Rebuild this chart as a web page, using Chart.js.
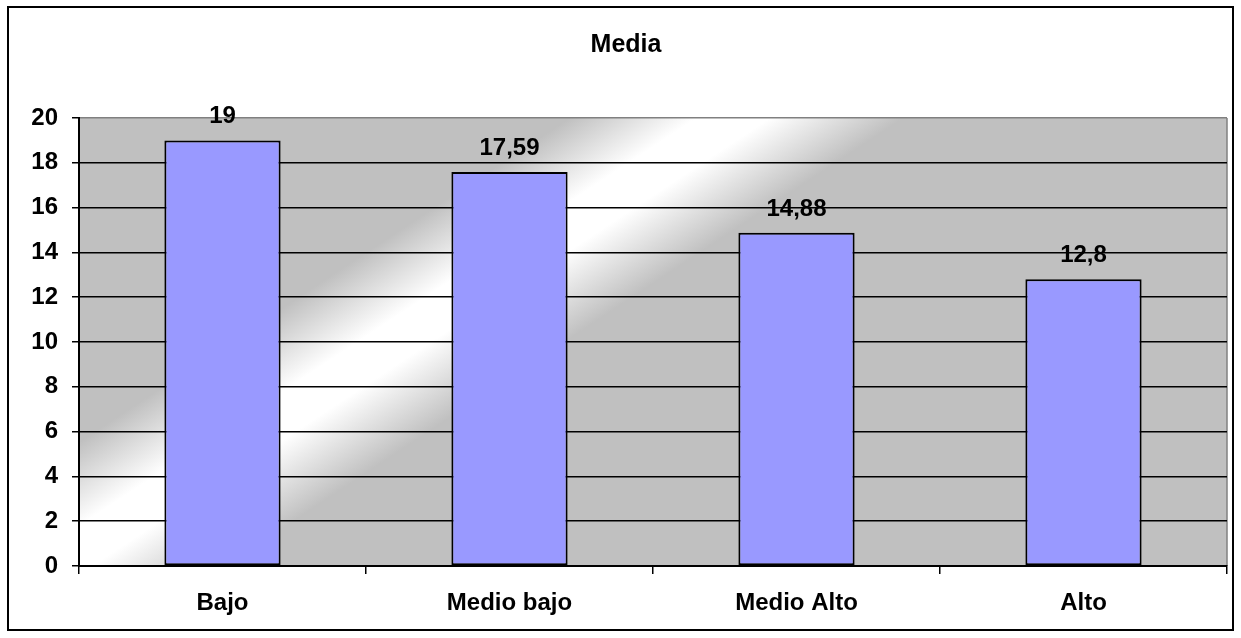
<!DOCTYPE html>
<html>
<head>
<meta charset="utf-8">
<title>Media</title>
<script src="https://cdn.jsdelivr.net/npm/chart.js@4/dist/chart.umd.min.js"></script>
<style>
  html, body { margin: 0; padding: 0; background: #fff; }
  #chart { display: block; }
</style>
</head>
<body>
<canvas id="chart" width="1241" height="638"></canvas>
<script>
// Data
const categories = ['Bajo', 'Medio bajo', 'Medio Alto', 'Alto'];
const mediaValues = [19, 17.59, 14.88, 12.8];
const yTicks = { min: 0, max: 20, step: 2 };

const FONT = "'Liberation Sans', Arial, sans-serif";

// gray plot background with a diagonal white band, plus the gray plot frame
const plotBackground = {
  id: 'plotBackground',
  beforeDraw(chart) {
    const { ctx, chartArea: a } = chart;
    const dx = 0.551, dy = 0.834, half = 92;
    const cx = 440, cy = 314;
    const g = ctx.createLinearGradient(cx - dx * half, cy - dy * half, cx + dx * half, cy + dy * half);
    g.addColorStop(0, '#c0c0c0');
    g.addColorStop(0.38, '#ffffff');
    g.addColorStop(0.6, '#ffffff');
    g.addColorStop(1, '#c0c0c0');
    ctx.save();
    ctx.fillStyle = g;
    ctx.fillRect(a.left, a.top, a.right - a.left, a.bottom - a.top);
    ctx.strokeStyle = '#808080';
    ctx.lineWidth = 1.5;
    ctx.beginPath();
    ctx.moveTo(a.right, a.top);
    ctx.lineTo(a.right, a.bottom);
    ctx.stroke();
    ctx.restore();
  }
};

// value labels above the bars, decimal comma
const barLabels = {
  id: 'barLabels',
  afterDatasetsDraw(chart) {
    const { ctx } = chart;
    const meta = chart.getDatasetMeta(0);
    ctx.save();
    ctx.font = 'bold 24px ' + FONT;
    ctx.fillStyle = '#000';
    ctx.textAlign = 'center';
    ctx.textBaseline = 'alphabetic';
    meta.data.forEach((bar, i) => {
      const txt = String(mediaValues[i]).replace('.', ',');
      ctx.fillText(txt, bar.x, bar.y - 17);
    });
    ctx.restore();
  }
};

// outer frame round the whole chart
const outerFrame = {
  id: 'outerFrame',
  afterDraw(chart) {
    const { ctx } = chart;
    ctx.save();
    ctx.strokeStyle = '#000';
    ctx.lineWidth = 2;
    ctx.strokeRect(8, 7, 1225, 623);
    ctx.restore();
  }
};

new Chart(document.getElementById('chart'), {
  type: 'bar',
  data: {
    labels: categories,
    datasets: [{
      label: 'Media',
      data: mediaValues,
      backgroundColor: '#9999ff',
      borderColor: '#000',
      borderWidth: 2,
      borderSkipped: false,
      categoryPercentage: 1,
      barPercentage: 0.405
    }]
  },
  options: {
    responsive: false,
    devicePixelRatio: 1,
    animation: false,
    layout: { padding: { left: 25, right: 14, top: 0, bottom: 0 } },
    plugins: {
      legend: { display: false },
      tooltip: { enabled: false },
      title: {
        display: true,
        text: 'Media',
        color: '#000',
        font: { family: FONT, size: 25, weight: 'bold' },
        padding: { top: 30, bottom: 58 }
      }
    },
    scales: {
      x: {
        afterFit(scale) { scale.height = 72; },
        border: { color: '#000', width: 2 },
        grid: {
          offset: true,
          drawOnChartArea: false,
          drawTicks: true,
          tickLength: 8,
          color: '#000',
          lineWidth: 1.5
        },
        ticks: {
          color: '#000',
          font: { family: FONT, size: 24, weight: 'bold' },
          padding: 15,
          maxRotation: 0,
          autoSkip: false
        }
      },
      y: {
        min: yTicks.min,
        max: yTicks.max,
        afterFit(scale) { scale.width = 54; },
        border: { color: '#000', width: 2 },
        grid: {
          color: ctx => (ctx.tick && ctx.tick.value === yTicks.max) ? '#808080' : '#000',
          tickColor: '#000',
          lineWidth: 1.5,
          tickLength: 7
        },
        ticks: {
          stepSize: yTicks.step,
          color: '#000',
          font: { family: FONT, size: 24, weight: 'bold' },
          padding: 14
        }
      }
    }
  },
  plugins: [plotBackground, barLabels, outerFrame]
});
</script>
</body>
</html>
